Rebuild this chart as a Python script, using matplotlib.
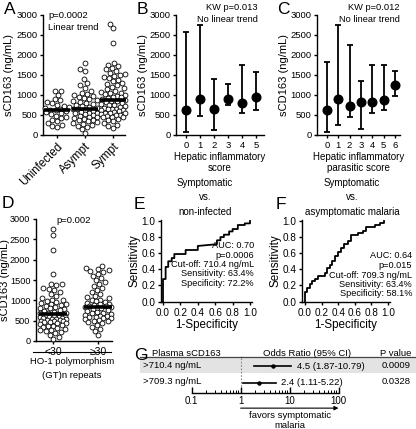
import numpy as np
import matplotlib
matplotlib.use("Agg")
import matplotlib.pyplot as plt
from matplotlib.patches import Rectangle
from matplotlib.lines import Line2D

plt.rcParams['font.family'] = ['Liberation Sans', 'DejaVu Sans']

# ---------------- data ----------------
A_cats = ["Uninfected", "Asympt", "Sympt"]
A_unin = [1110, 1100, 1000, 900, 870, 820, 790, 760, 720, 700, 680, 650, 630, 620,
          600, 570, 550, 520, 480, 450, 420, 380, 340, 300, 250, 220, 200]
A_asym = [1800, 1650, 1600, 1400, 1300, 1250, 1180, 1100, 1050, 1020, 1000, 980, 950,
          920, 900, 870, 850, 820, 800, 780, 750, 720, 700, 680, 660, 640, 620, 600,
          580, 560, 560, 540, 520, 500, 480, 460, 450, 420, 400, 380, 370, 340, 320,
          300, 280, 250, 230, 200, 150, 50]
A_symp = [2780, 2670, 2290, 1800, 1760, 1720, 1680, 1640, 1600, 1560, 1530, 1500, 1480,
          1450, 1420, 1380, 1340, 1300, 1270, 1240, 1200, 1170, 1140, 1100, 1080, 1060,
          1040, 1020, 1000, 980, 960, 940, 920, 900, 880, 860, 840, 820, 800, 780, 760,
          740, 720, 700, 680, 660, 650, 640, 620, 620, 600, 580, 560, 550, 540, 520, 500,
          500, 480, 460, 450, 440, 410, 380, 340, 300, 260, 220, 180]
A_medians = [630, 640, 880]

B_ticks = [0, 1, 2, 3, 4, 5]
B_med = [615, 890, 640, 910, 790, 945]
B_lo = [65, 470, 125, 760, 545, 615]
B_hi = [2570, 2750, 1410, 1285, 1740, 1565]

C_ticks = [0, 1, 2, 3, 4, 5, 6]
C_med = [630, 910, 720, 830, 830, 880, 1260]
C_lo = [75, 250, 455, 140, 545, 620, 970]
C_hi = [1815, 2760, 2255, 1360, 1755, 1755, 1590]

D_cats = ["<30", "\u226530"]
D_lt30 = [2750, 2600, 2250, 1650, 1400, 1390, 1370, 1300, 1280, 1250, 1200, 1150, 1100,
          1050, 1020, 1000, 980, 960, 940, 920, 900, 880, 860, 840, 820, 800, 780, 760,
          740, 720, 700, 690, 680, 670, 660, 650, 640, 630, 620, 610, 600, 590, 580, 570,
          560, 550, 540, 530, 520, 510, 500, 490, 480, 470, 460, 450, 440, 420, 400, 380,
          360, 340, 320, 300, 280, 260, 240, 220, 200, 150, 100, 50]
D_ge30 = [1850, 1800, 1780, 1750, 1720, 1700, 1650, 1600, 1550, 1500, 1450, 1400, 1350,
          1300, 1250, 1200, 1150, 1100, 1080, 1050, 1020, 1000, 980, 960, 940, 920, 900,
          880, 860, 850, 840, 830, 820, 800, 780, 760, 740, 720, 700, 680, 660, 640, 620,
          620, 600, 580, 560, 560, 540, 520, 500, 480, 460, 440, 400, 350, 300, 250, 150]
D_medians = [660, 840]

E_fpr = [0.00, 0.00, 0.03, 0.03, 0.06, 0.06, 0.10, 0.10, 0.13, 0.13, 0.26, 0.26, 0.40, 0.40,
         0.60, 0.62, 0.62, 0.66, 0.66, 0.70, 0.70, 0.76, 0.76, 0.80, 0.80, 0.86, 0.86, 0.94,
         0.94, 1.00, 1.00]
E_tpr = [0.00, 0.28, 0.28, 0.43, 0.43, 0.50, 0.50, 0.54, 0.54, 0.59, 0.59, 0.64, 0.64, 0.69,
         0.71, 0.71, 0.76, 0.76, 0.80, 0.80, 0.83, 0.83, 0.87, 0.87, 0.90, 0.90, 0.95, 0.95,
         0.97, 0.97, 1.00]
E_text = ["AUC: 0.70", "p=0.0006", "Cut-off: 710.4 ng/mL", "Sensitivity: 63.4%",
          "Specificity: 72.2%"]

F_fpr = [0, 0, 0.03, 0.03, 0.06, 0.06, 0.09, 0.09, 0.12, 0.12, 0.16, 0.16, 0.24, 0.24, 0.27,
         0.27, 0.30, 0.30, 0.33, 0.33, 0.36, 0.36, 0.40, 0.40, 0.43, 0.43, 0.47, 0.47, 0.52,
         0.52, 0.56, 0.56, 0.64, 0.64, 0.70, 0.70, 0.74, 0.74, 0.84, 0.84, 0.90, 0.90, 0.95,
         0.95]
F_tpr = [0, 0.12, 0.12, 0.17, 0.17, 0.22, 0.22, 0.25, 0.25, 0.28, 0.28, 0.32, 0.32, 0.36,
         0.36, 0.42, 0.42, 0.45, 0.45, 0.50, 0.50, 0.56, 0.56, 0.62, 0.62, 0.67, 0.67, 0.71,
         0.71, 0.75, 0.75, 0.82, 0.82, 0.85, 0.85, 0.88, 0.88, 0.93, 0.93, 0.95, 0.95, 0.97,
         0.97, 1.0]
F_text = ["AUC: 0.64", "p=0.015", "Cut-off: 709.3 ng/mL", "Sensitivity: 63.4%",
          "Specificity: 58.1%"]

G_labels = [">710.4 ng/mL", ">709.3 ng/mL"]
G_or = [4.5, 2.4]
G_lo = [1.87, 1.11]
G_hi = [10.79, 5.22]
G_p = ["0.0009", "0.0328"]
G_ticks = [0.1, 1, 10, 100]

# ---------------- layout helpers ----------------
W, H = 416, 429
fig = plt.figure(figsize=(W / 100, H / 100), dpi=100)


def ax_at(l, t, r, b):
    return fig.add_axes([l / W, 1 - b / H, (r - l) / W, (b - t) / H])


def ftext(x, y, s, **kw):
    return fig.text(x / W, 1 - y / H, s, **kw)


def style(ax, fs=6.8):
    for s in ['top', 'right']:
        ax.spines[s].set_visible(False)
    for s in ['left', 'bottom']:
        ax.spines[s].set_linewidth(1.0)
    ax.tick_params(width=1.0, length=2.5, labelsize=fs, pad=1.5)


def spread(vals, px_y, px_x, cap, d0=5.0, n=25):
    """Deterministic scatter layout: each point (in value order) goes to the
    horizontal slot inside +-cap pixels that is least crowded."""
    vals = np.asarray(vals, float)
    order = np.argsort(vals)
    slots = np.linspace(-cap, cap, n)
    slots = slots[np.argsort(np.abs(slots), kind='stable')]
    px, py = [], []
    offs = np.zeros(len(vals))
    for i in order:
        y = vals[i] * px_y
        if px:
            P = np.array(px); Q = np.array(py)
            dist = np.sqrt((slots[:, None] - P[None, :]) ** 2 + (y - Q[None, :]) ** 2).min(axis=1)
            score = np.minimum(dist, d0)
            best = slots[np.argmax(score)]
        else:
            best = 0.0
        px.append(best); py.append(y)
        offs[i] = best
    return offs / px_x


LET = 12.5

# ---------------- Panel A ----------------
axA = ax_at(43, 15, 125, 135)
style(axA)
axA.set_xlim(-0.5, 2.43)
axA.set_ylim(0, 3000)
pxy = 120 / 3000
pxx = 28
for i, vals in enumerate([A_unin, A_asym, A_symp]):
    off = spread(vals, pxy, pxx, cap=12.0)
    axA.plot(i + off, vals, 'o', ms=3.5, mfc='white', mec='black', mew=0.6, clip_on=False, zorder=3)
    axA.plot([i - 0.47, i + 0.47], [A_medians[i]] * 2, color='black', lw=2.6, clip_on=False, zorder=4,
             solid_capstyle='butt')
axA.set_yticks(range(0, 3001, 500))
axA.set_xticks(range(3))
axA.set_xticklabels(A_cats, rotation=45, ha='right', rotation_mode='anchor', fontsize=8.3)
axA.set_ylabel("sCD163 (ng/mL)", fontsize=8)
axA.yaxis.set_label_coords((14 - 43) / 82, 0.5)
axA.text(0.06, 1.0, "p=0.0002", transform=axA.transAxes, fontsize=6.8, va='center')
axA.text(0.06, 0.9, "Linear trend", transform=axA.transAxes, fontsize=6.8, va='center')
ftext(4, 2, "A", fontsize=LET, va='top')

# ---------------- Panel B ----------------
def errpanel(ax, xt, med, lo, hi):
    med = np.array(med); lo = np.array(lo); hi = np.array(hi)
    ax.errorbar(xt, med, yerr=[med - lo, hi - med], fmt='o', color='black', ms=6.2,
                capsize=2.4, elinewidth=1.3, capthick=1.3, clip_on=False, zorder=3)
    ax.set_ylim(0, 3000)
    ax.set_yticks(range(0, 3001, 500))
    ax.set_xticks(xt)
    ax.set_ylabel("sCD163 (ng/mL)", fontsize=8, labelpad=1)


axB = ax_at(176, 15, 264, 135)
style(axB)
axB.set_xlim(-0.71, 5.57)
errpanel(axB, B_ticks, B_med, B_lo, B_hi)
axB.set_xlabel("Hepatic inflammatory\nscore", fontsize=7, labelpad=2, linespacing=1.1)
ftext(258, 7, "KW p=0.013", fontsize=6.7, ha='right', va='center')
ftext(258, 19, "No linear trend", fontsize=6.7, ha='right', va='center')
ftext(137, 2, "B", fontsize=LET, va='top')

# ---------------- Panel C ----------------
axC = ax_at(317, 15, 400, 135)
style(axC)
axC.set_xlim(-0.88, 6.44)
errpanel(axC, C_ticks, C_med, C_lo, C_hi)
axC.set_xlabel("Hepatic inflammatory\nparasitic score", fontsize=7, labelpad=2, linespacing=1.1)
ftext(400, 7, "KW p=0.012", fontsize=6.7, ha='right', va='center')
ftext(400, 19, "No linear trend", fontsize=6.7, ha='right', va='center')
ftext(277, 2, "C", fontsize=LET, va='top')

# ---------------- Panel D ----------------
axD = ax_at(36, 219, 112, 341)
style(axD, fs=6.6)
axD.set_xlim(-0.38, 1.31)
axD.set_ylim(0, 3000)
pxyD = 122 / 3000
pxxD = 45
for i, vals in enumerate([D_lt30, D_ge30]):
    off = spread(vals, pxyD, pxxD, cap=13.0)
    axD.plot(i + off, vals, 'o', ms=3.5, mfc='white', mec='black', mew=0.6, clip_on=False, zorder=3)
    axD.plot([i - 0.31, i + 0.31], [D_medians[i]] * 2, color='black', lw=2.6, clip_on=False, zorder=4,
             solid_capstyle='butt')
axD.set_yticks(range(0, 3001, 500))
axD.set_xticks([0, 1])
axD.set_xticklabels(D_cats, fontsize=7.5)
axD.set_ylabel("sCD163 (ng/mL)", fontsize=8)
axD.yaxis.set_label_coords((9.5 - 36) / 76, 0.5)
axD.text(0.5, 0.99, "p=0.002", transform=axD.transAxes, fontsize=6.8, ha='center', va='center')
fig.add_artist(Line2D([33 / W, 111 / W], [1 - 352 / H] * 2, color='black', lw=0.8))
ftext(72, 362, "HO-1 polymorphism", fontsize=6.8, ha='center', va='center')
ftext(72, 376, "(GT)n repeats", fontsize=6.8, ha='center', va='center')
ftext(2, 196, "D", fontsize=LET, va='top')

# ---------------- Panels E, F ----------------
def rocpanel(ax, fpr, tpr, xl):
    style(ax, fs=7.2)
    ax.plot(fpr, tpr, color='black', lw=1.3, clip_on=False)
    ax.set_xlim(*xl)
    ax.set_ylim(-0.005, 1.012)
    ax.set_xticks(np.arange(0, 1.01, 0.2))
    ax.set_yticks(np.arange(0, 1.01, 0.2))
    ax.set_xticklabels([f"{v:.1f}" for v in np.arange(0, 1.01, 0.2)])
    ax.set_yticklabels([f"{v:.1f}" for v in np.arange(0, 1.01, 0.2)])
    ax.set_xlabel("1-Specificity", fontsize=8.4, labelpad=1)
    ax.set_ylabel("Sensitivity", fontsize=8.4, labelpad=1)


axE = ax_at(161, 220, 252, 302)
rocpanel(axE, E_fpr, E_tpr, (-0.023, 1.023))
for k, s in enumerate(E_text):
    ftext(254, 245.5 + 9.5 * k, s, fontsize=6.6, ha='right', va='center')
for k, s in enumerate(["Symptomatic", "vs.", "non-infected"]):
    ftext(205, 183 + 14.5 * k, s, fontsize=7, ha='center', va='center')
ftext(134, 197, "E", fontsize=LET, va='top')

axF = ax_at(302, 220, 390, 302)
rocpanel(axF, F_fpr, F_tpr, (-0.036, 1.024))
for k, s in enumerate(F_text):
    ftext(412, 256 + 9.5 * k, s, fontsize=6.6, ha='right', va='center')
for k, s in enumerate(["Symptomatic", "vs.", "asymptomatic malaria"]):
    ftext(352, 183 + 14.5 * k, s, fontsize=7, ha='center', va='center')
ftext(276, 197, "F", fontsize=LET, va='top')

# ---------------- Panel G ----------------
fig.add_artist(Rectangle((140 / W, 1 - 373 / H), (416 - 140) / W, 16 / H,
                         transform=fig.transFigure, facecolor='#e3e3e3', edgecolor='none', zorder=0))
fig.add_artist(Line2D([140 / W, 1.0], [1 - 357 / H] * 2, color='#444444', lw=0.9))
ftext(134, 348, "G", fontsize=LET, va='top')
ftext(152, 353, "Plasma sCD163", fontsize=6.8, va='center')
ftext(307, 353, "Odds Ratio (95% CI)", fontsize=6.8, ha='center', va='center')
ftext(411, 353, "P value", fontsize=6.8, ha='right', va='center')

axG = ax_at(191.7, 356, 338.5, 393)
axG.set_facecolor('none')
axG.set_xscale('log')
axG.set_xlim(0.1, 100)
axG.set_ylim(-1.6, 0.6)
for s in ['top', 'right', 'left']:
    axG.spines[s].set_visible(False)
axG.spines['bottom'].set_linewidth(1.0)
axG.set_yticks([])
axG.set_xticks(G_ticks)
axG.set_xticklabels(["0.1", "1", "10", "100"])
axG.tick_params(axis='x', which='major', direction='in', length=4, width=1.0, labelsize=7, pad=2)
axG.tick_params(axis='x', which='minor', direction='in', length=2.2, width=0.7)
axG.axvline(1, color='#888888', ls=(0, (1.5, 1.5)), lw=0.8, zorder=1)
for i in range(len(G_or)):
    y = -i
    axG.plot([G_lo[i], G_hi[i]], [y, y], color='black', lw=1.2, zorder=3)
    axG.plot(G_or[i], y, 'o', color='black', ms=2.2, zorder=4)
    axG.annotate(f"{G_or[i]} ({G_lo[i]}-{G_hi[i]})", xy=(G_hi[i], y), xytext=(4, 0),
                 textcoords='offset points', fontsize=6.8, va='center', ha='left',
                 annotation_clip=False)
    ftext(143, 365 + 17 * i, G_labels[i], fontsize=6.8, va='center')
    ftext(411, 365 + 17 * i, G_p[i], fontsize=6.8, ha='right', va='center')
axG.annotate('', xy=(100, -2.5), xytext=(1, -2.5),
             arrowprops=dict(arrowstyle='-|>', lw=0.8, color='black', mutation_scale=6,
                             shrinkA=0, shrinkB=0),
             annotation_clip=False)
ftext(290, 416, "favors symptomatic", fontsize=6.8, ha='center', va='center')
ftext(290, 426, "malaria", fontsize=6.8, ha='center', va='center')

fig.savefig("out.png", dpi=100)
